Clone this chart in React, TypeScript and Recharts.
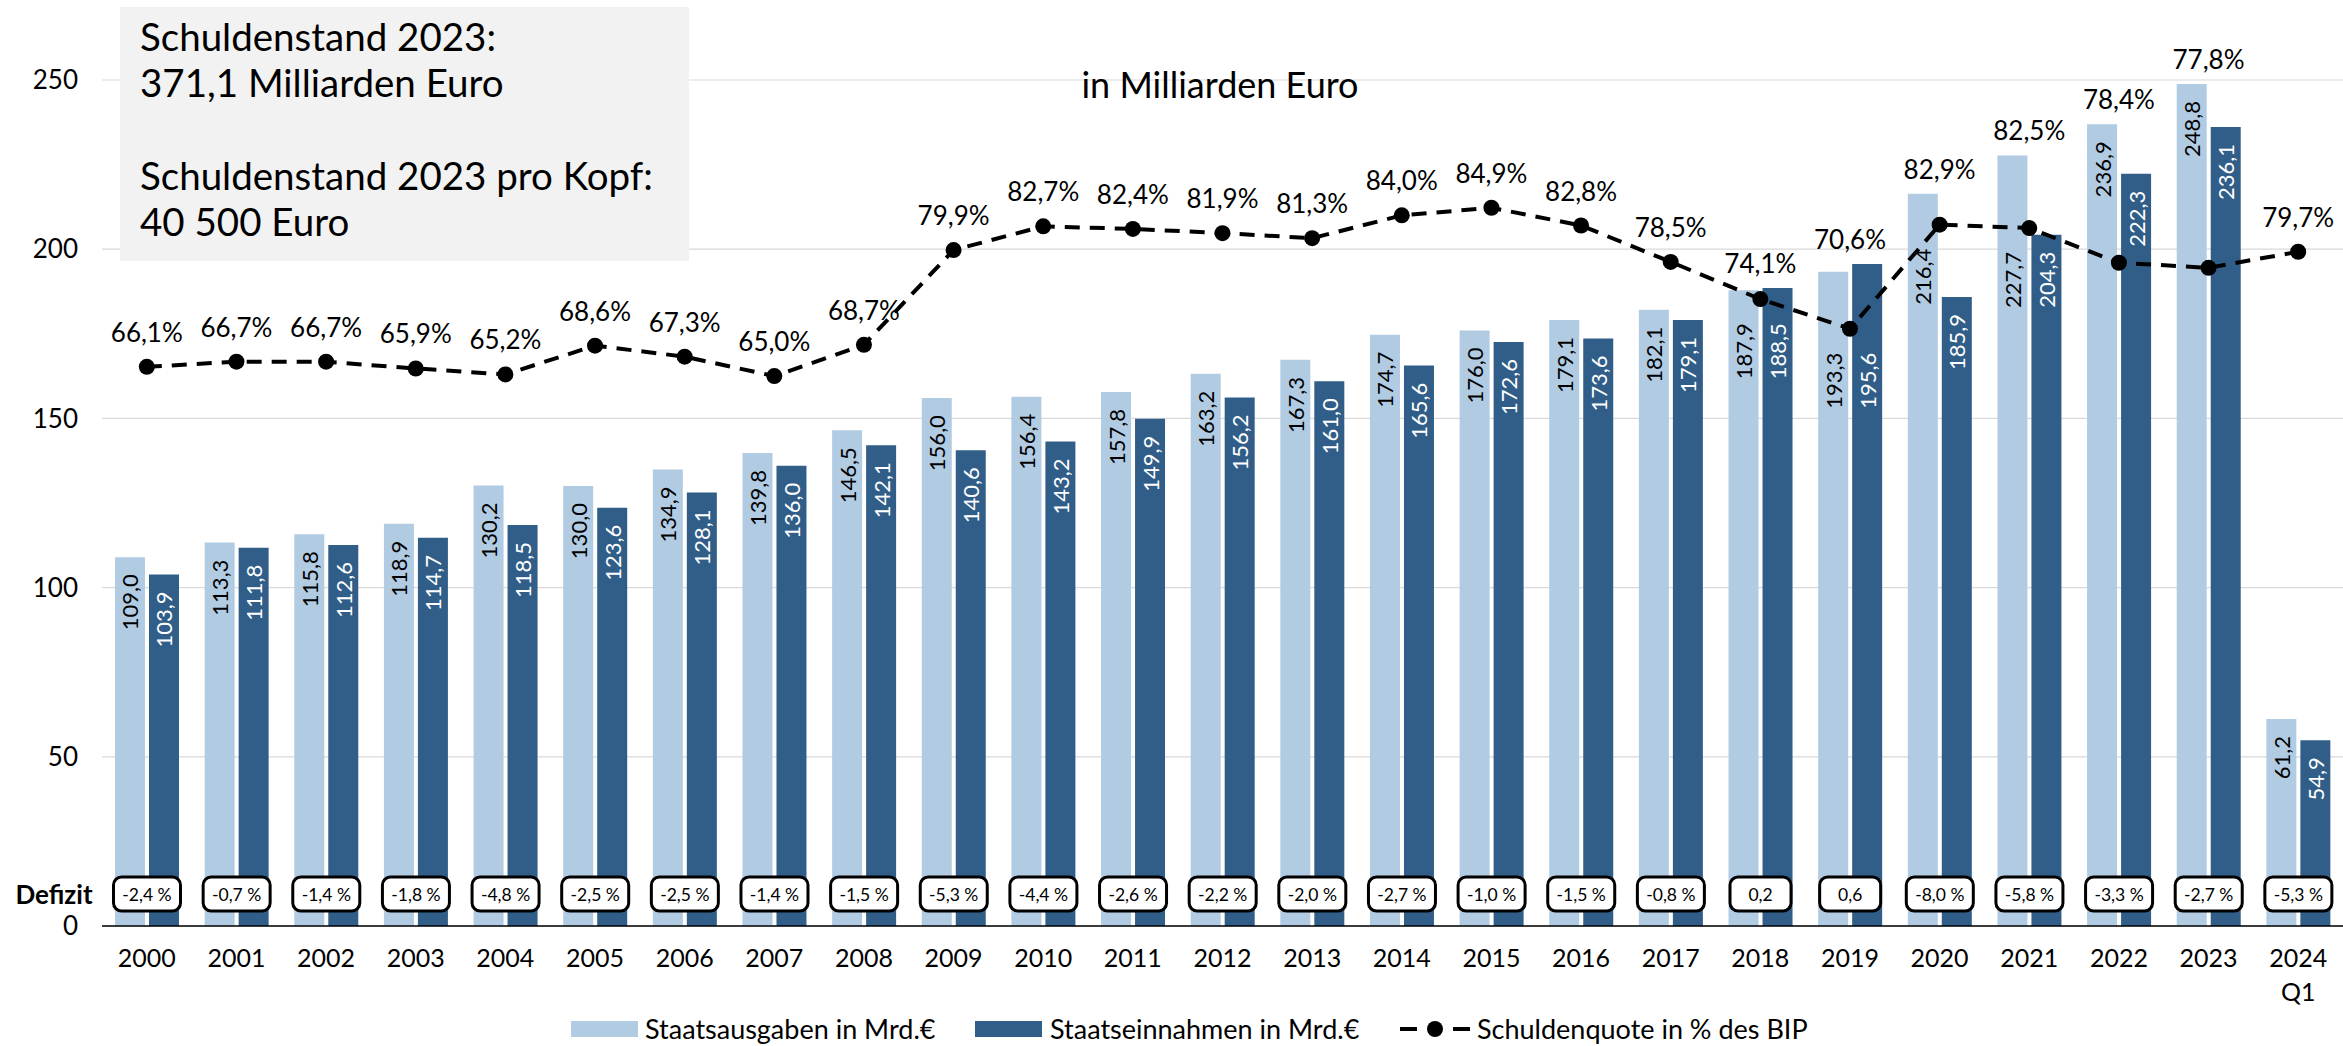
import React from "react";
import { ComposedChart, Bar, Line, XAxis, YAxis, CartesianGrid, LabelList } from "recharts";

const years = [
  "2000", "2001", "2002", "2003", "2004", "2005", "2006", "2007", "2008", "2009", "2010", "2011", "2012",
  "2013", "2014", "2015", "2016", "2017", "2018", "2019", "2020", "2021", "2022", "2023", "2024 Q1",
];
const staatsausgaben = [
  109.0, 113.3, 115.8, 118.9, 130.2, 130.0, 134.9, 139.8, 146.5, 156.0, 156.4, 157.8, 163.2,
  167.3, 174.7, 176.0, 179.1, 182.1, 187.9, 193.3, 216.4, 227.7, 236.9, 248.8, 61.2,
];
const staatseinnahmen = [
  103.9, 111.8, 112.6, 114.7, 118.5, 123.6, 128.1, 136.0, 142.1, 140.6, 143.2, 149.9, 156.2,
  161.0, 165.6, 172.6, 173.6, 179.1, 188.5, 195.6, 185.9, 204.3, 222.3, 236.1, 54.9,
];
const schuldenquote = [
  66.1, 66.7, 66.7, 65.9, 65.2, 68.6, 67.3, 65.0, 68.7, 79.9, 82.7, 82.4, 81.9,
  81.3, 84.0, 84.9, 82.8, 78.5, 74.1, 70.6, 82.9, 82.5, 78.4, 77.8, 79.7,
];
const defizit = [
  "-2,4 %", "-0,7 %", "-1,4 %", "-1,8 %", "-4,8 %", "-2,5 %", "-2,5 %", "-1,4 %", "-1,5 %", "-5,3 %",
  "-4,4 %", "-2,6 %", "-2,2 %", "-2,0 %", "-2,7 %", "-1,0 %", "-1,5 %", "-0,8 %", "0,2", "0,6",
  "-8,0 %", "-5,8 %", "-3,3 %", "-2,7 %", "-5,3 %",
];
const leftTicks = [0, 50, 100, 150, 200, 250];

const LIGHT = "#B1CBE3";
const DARK = "#305E89";
const FONT = "Lato, 'Open Sans', sans-serif";

const WIDTH = 2343;
const HEIGHT = 1046;
const PLOT_TOP = 80;
const PLOT_BOTTOM = 926;
const LEFT_MAX = 250;
const RIGHT_MAX = 100;
const PX_PER_PCT = (PLOT_BOTTOM - PLOT_TOP) / RIGHT_MAX;

const data = years.map((year, i) => ({
  year,
  ausgaben: staatsausgaben[i],
  einnahmen: staatseinnahmen[i],
  quote: schuldenquote[i],
  defizit: defizit[i],
}));

const fmt = (v: number) => v.toFixed(1).replace(".", ",");

// vertical value label inside the top of a bar, pushed below the line's dot if they would collide
const barLabel = (color: string) => (props: any) => {
  const box = props.viewBox ?? props;
  const { x, y, width } = box;
  const cx = x + width / 2;
  const dotY = PLOT_BOTTOM - schuldenquote[props.index] * PX_PER_PCT;
  let ty = y + 17;
  if (ty < dotY + 14 && ty + 54 > dotY - 14) ty = dotY + 24;
  return (
    <text
      x={cx}
      y={ty}
      transform={`rotate(-90 ${cx} ${ty})`}
      textAnchor="end"
      dominantBaseline="central"
      fill={color}
      fontSize={22}
      fontFamily={FONT}
    >
      {fmt(props.value)}
    </text>
  );
};

// deficit box sitting on the axis, centred between the two bars
const defizitBox = (props: any) => {
  const box = props.viewBox ?? props;
  const { x, y, height } = box;
  const cx = x - 2;
  const bottom = y + height;
  const label = String(props.value);
  const w = label.includes("%") ? 67 : 61;
  return (
    <g>
      <rect x={cx - w / 2} y={bottom - 49} width={w} height={34} rx={8} ry={8} fill="#fff" stroke="#000" strokeWidth={3} />
      <text x={cx} y={bottom - 32} textAnchor="middle" dominantBaseline="central" fontSize={17.5} fontFamily={FONT} fill="#000">
        {label}
      </text>
    </g>
  );
};

// percentage label above the dot, or above the bars when they are higher
const quoteLabel = (props: any) => {
  const { x, y, value, index } = props;
  const barMax = Math.max(staatsausgaben[index], staatseinnahmen[index]) * (RIGHT_MAX / LEFT_MAX);
  const barTop = y + (value - barMax) * PX_PER_PCT;
  const ly = Math.min(y - 35, barTop - 25);
  return (
    <text x={x} y={ly} textAnchor="middle" dominantBaseline="central" fontSize={26} fontFamily={FONT} fill="#000">
      {fmt(value)}%
    </text>
  );
};

const YearTick = (props: any) => {
  const { x, y, payload } = props;
  const lines = String(payload.value).split(" ");
  return (
    <g>
      {lines.map((line, i) => (
        <text key={i} x={x} y={y + 31 + i * 34} textAnchor="middle" dominantBaseline="central" fontSize={25} fontFamily={FONT} fill="#000">
          {line}
        </text>
      ))}
    </g>
  );
};

const Overlay = () => (
  <svg width={WIDTH} height={HEIGHT} style={{ position: "absolute", left: 0, top: 0, pointerEvents: "none" }}>
    <rect x={120} y={7} width={569} height={254} fill="#F2F2F2" />
    <g fontFamily={FONT} fontSize={38.5} fill="#000">
      <text x={140} y={51}>Schuldenstand 2023:</text>
      <text x={140} y={97}>371,1 Milliarden Euro</text>
      <text x={140} y={190}>Schuldenstand 2023 pro Kopf:</text>
      <text x={140} y={236}>40 500 Euro</text>
    </g>
    <text x={1220} y={98} textAnchor="middle" fontFamily={FONT} fontSize={36} fill="#000">
      in Milliarden Euro
    </text>
    <text x={54} y={894} textAnchor="middle" dominantBaseline="central" fontFamily={FONT} fontWeight="bold" fontSize={26} fill="#000">
      Defizit
    </text>
    <g fontFamily={FONT} fontSize={27} fill="#000">
      <rect x={571} y={1021} width={67} height={16} fill={LIGHT} />
      <text x={645} y={1028} dominantBaseline="central">Staatsausgaben in Mrd.€</text>
      <rect x={975} y={1021} width={67} height={16} fill={DARK} />
      <text x={1050} y={1028} dominantBaseline="central">Staatseinnahmen in Mrd.€</text>
      <line x1={1400} y1={1029} x2={1470} y2={1029} stroke="#000" strokeWidth={4} strokeDasharray="17 36 17" />
      <circle cx={1435} cy={1029} r={8} fill="#000" />
      <text x={1477} y={1028} dominantBaseline="central">Schuldenquote in % des BIP</text>
    </g>
  </svg>
);

const App: React.FC = () => {
  return (
    <div style={{ position: "absolute", left: 0, top: 0, width: WIDTH, height: HEIGHT, background: "#fff" }}>
      <ComposedChart
        width={WIDTH}
        height={HEIGHT}
        data={data}
        margin={{ top: PLOT_TOP, right: 0, bottom: 0, left: 0 }}
        barSize={30}
        barGap={4}
      >
        <CartesianGrid yAxisId="left" vertical={false} stroke="#D9D9D9" strokeWidth={1.2} />
        <XAxis
          dataKey="year"
          interval={0}
          height={HEIGHT - PLOT_BOTTOM}
          tickLine={false}
          tickSize={0}
          tickMargin={0}
          axisLine={{ stroke: "#000", strokeWidth: 1.5 }}
          tick={<YearTick />}
        />
        <YAxis
          yAxisId="left"
          domain={[0, LEFT_MAX]}
          ticks={leftTicks}
          width={102}
          axisLine={false}
          tickLine={false}
          tickSize={0}
          tickMargin={24}
          tick={{ fontSize: 26, fill: "#000", fontFamily: FONT }}
        />
        <YAxis yAxisId="right" orientation="right" domain={[0, RIGHT_MAX]} hide />
        <Bar yAxisId="left" dataKey="ausgaben" fill={LIGHT} isAnimationActive={false}>
          <LabelList dataKey="ausgaben" content={barLabel("#000")} />
        </Bar>
        <Bar yAxisId="left" dataKey="einnahmen" fill={DARK} isAnimationActive={false}>
          <LabelList dataKey="einnahmen" content={barLabel("#fff")} />
          <LabelList dataKey="defizit" content={defizitBox} />
        </Bar>
        <Line
          yAxisId="right"
          dataKey="quote"
          stroke="#000"
          strokeWidth={4}
          strokeDasharray="15 10"
          dot={{ r: 8, fill: "#000", stroke: "#000", strokeWidth: 0 }}
          activeDot={false}
          isAnimationActive={false}
        >
          <LabelList dataKey="quote" content={quoteLabel} />
        </Line>
      </ComposedChart>
      <Overlay />
    </div>
  );
};

export default App;
